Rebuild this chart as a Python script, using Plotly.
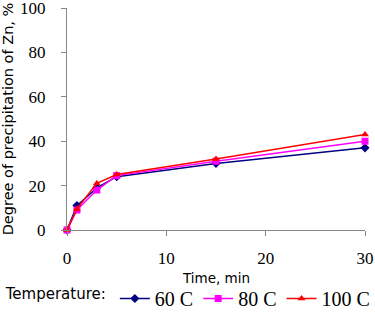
import plotly.graph_objects as go

time_min = [0, 1, 3, 5, 15, 30]
t60 = [0, 11, 19, 24, 30, 37]
t80 = [0, 9, 18, 24.5, 31, 40]
t100 = [0, 9.5, 21, 25, 32, 43]
series_names = ["60 C", "80 C", "100 C"]
colors = ["#000080", "#FF00FF", "#FF0000"]
symbols = ["diamond", "square", "triangle-up"]
x_title = "Time, min"
y_title = "Degree of precipitation of Zn, %"

fig = go.Figure()
for name, ys, c, s in zip(series_names, [t60, t80, t100], colors, symbols):
    fig.add_trace(go.Scatter(
        x=time_min, y=ys, name=name, mode="lines+markers",
        line=dict(color=c, width=1.5),
        marker=dict(symbol=s, size=7, color=c),
        cliponaxis=False,
    ))

axis_common = dict(
    showgrid=False, zeroline=False, showline=True, linecolor="#888888", linewidth=1,
    ticks="outside", ticklen=5, tickcolor="#888888",
    tickfont=dict(family="Liberation Serif", size=17, color="#000"),
    ticklabeloverflow="allow", automargin=False,
)
fig.update_layout(
    width=375, height=318,
    margin=dict(l=67, r=10, t=8, b=88, autoexpand=False),
    plot_bgcolor="white", paper_bgcolor="white",
    xaxis=dict(range=[0, 30], tickvals=[0, 10, 20, 30], ticklabelstandoff=8,
               **axis_common),
    yaxis=dict(range=[0, 100], tickvals=[0, 20, 40, 60, 80, 100], ticklabelstandoff=12,
               title=dict(text=y_title, font=dict(family="DejaVu Sans", size=14.5, color="#000"), standoff=10),
               **axis_common),
    legend=dict(orientation="h", xref="container", x=0.01, xanchor="left",
                yref="container", y=-0.055, yanchor="bottom",
                title=dict(text="Temperature:", font=dict(family="DejaVu Sans", size=15, color="#000")),
                font=dict(family="Liberation Serif", size=20, color="#000"),
                itemwidth=30, tracegroupgap=0),
    showlegend=True,
    annotations=[dict(text=x_title, xref="paper", yref="paper", x=0.5, y=-0.215,
                      xanchor="center", yanchor="middle", showarrow=False,
                      font=dict(family="DejaVu Sans", size=13.5, color="#000"))],
)
fig.write_html("out.html", config={"displayModeBar": False},
               post_script="document.body.style.margin='0';")
